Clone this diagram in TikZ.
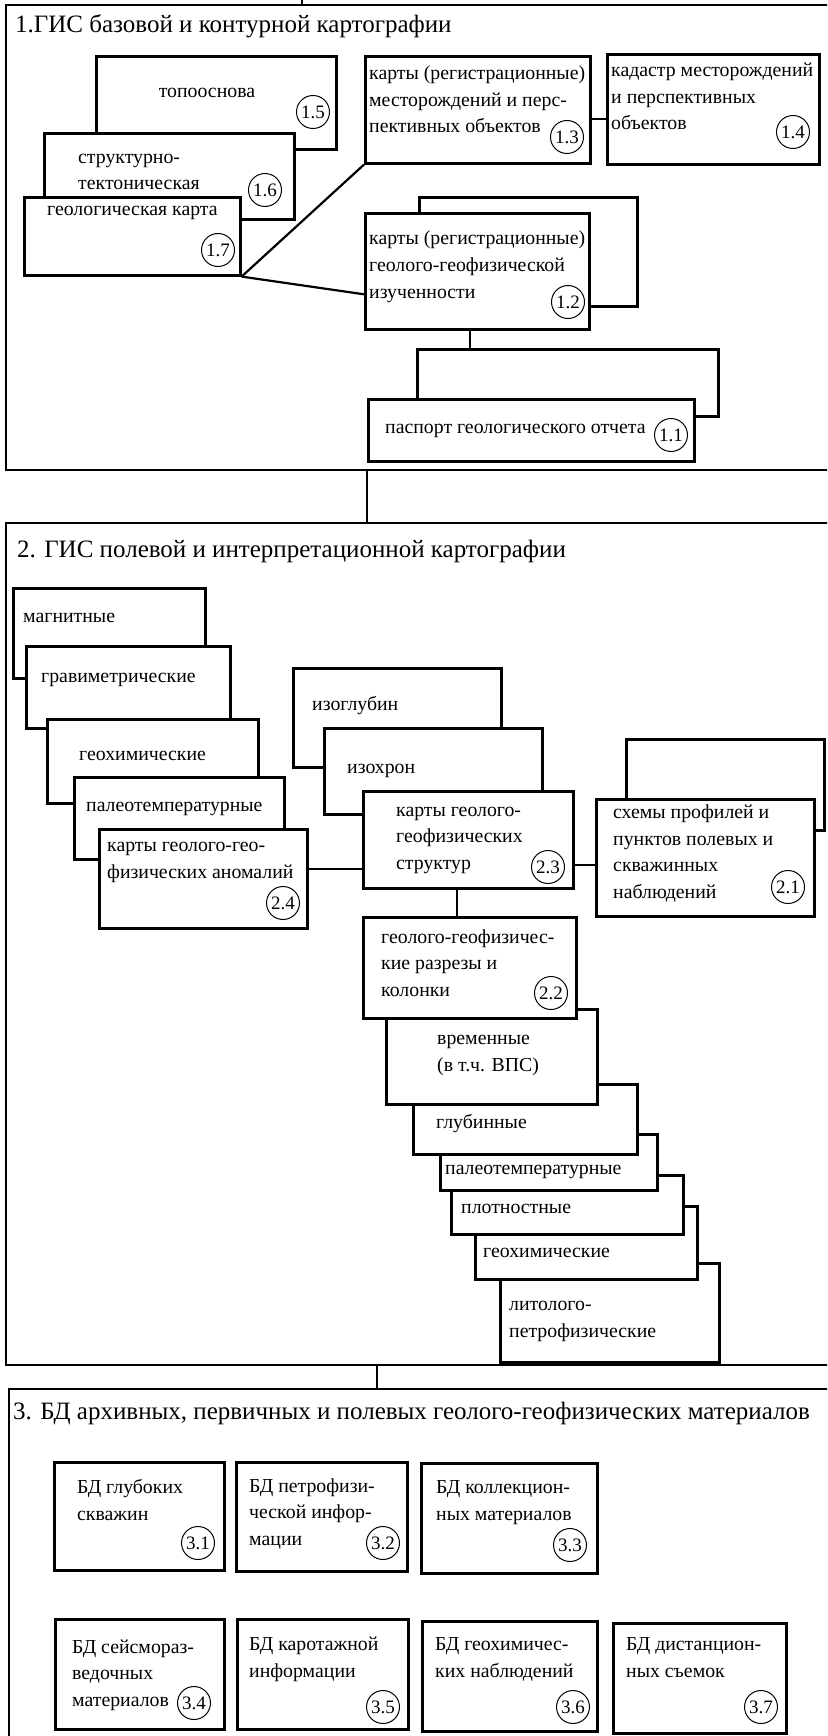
\documentclass[tikz,border=0pt]{standalone}
\usepackage{fontspec}
\setmainfont{Liberation Serif}
\usetikzlibrary{positioning,calc}

\begin{document}
\begin{tikzpicture}[x=1pt, y=-1pt,
    frame/.style={draw, line width=2.4pt, anchor=north west, inner sep=0pt},
    card/.style={draw, line width=2.6pt, fill=white, anchor=north west, inner sep=0pt},
    lbl/.style={anchor=base west, align=left, inner sep=0pt, font=\fontsize{19.8}{26.5}\selectfont},
    head/.style={anchor=base west, inner sep=0pt, font=\fontsize{25}{30}\selectfont},
    num/.style={draw, circle, line width=1pt, minimum size=33pt, inner sep=0pt, font=\fontsize{19}{20}\selectfont},
    link/.style={line width=2.2pt}]
    \useasboundingbox (0,0) rectangle (827,1736);
    \clip (0,0) rectangle (827,1736);

    % 1. base and contour cartography
    \node[frame, minimum width=840pt, minimum height=465pt] (f1) at (5,4) {};
    \node[head] (h1) at (15,33) {1.ГИС базовой и контурной картографии};
    \coordinate (up) at (302,0);
    \draw[link] (up) -- (up |- f1.north);

    \node[card, minimum width=240pt, minimum height=93pt] (b15) at (95,55) {};
    \node[lbl, anchor=base] (t15) at (207,98) {топооснова};
    \node[num] (n15) at (313,112) {1.5};
    \node[card, minimum width=250pt, minimum height=86pt] (b16) at (43,132) {};
    \node[lbl] (t16) at (78,190) {структурно-\\тектоническая};
    \node[num] (n16) at (265,190) {1.6};
    \node[card, minimum width=216pt, minimum height=78pt] (b17) at (23,196) {};
    \node[lbl] (t17) at (47,216) {геологическая карта};
    \node[num] (n17) at (218,250) {1.7};

    \node[card, minimum width=225pt, minimum height=107pt] (b13) at (364,55) {};
    \node[lbl] (t13) at (369,133) {карты (регистрационные)\\месторождений и перс-\\пективных объектов};
    \node[num] (n13) at (567,137) {1.3};
    \node[card, minimum width=212pt, minimum height=110pt] (b14) at (606,53) {};
    \node[lbl] (t14) at (611,130) {кадастр месторождений\\и перспективных\\объектов};
    \node[num] (n14) at (793,132) {1.4};

    \node[card, minimum width=218pt, minimum height=109pt] (b12b) at (418,196) {};
    \node[card, minimum width=224pt, minimum height=116pt] (b12) at (364,212) {};
    \node[lbl] (t12) at (369,298) {карты (регистрационные)\\геолого-геофизической\\изученности};
    \node[num] (n12) at (568,302) {1.2};

    \node[card, minimum width=301pt, minimum height=67pt] (b11b) at (416,348) {};
    \node[card, minimum width=326pt, minimum height=62pt] (b11) at (367,398) {};
    \node[lbl] (t11) at (385,433) {паспорт геологического отчета};
    \node[num] (n11) at (671,435) {1.1};

    \draw[link] (b17.south east) -- (b13.south west);
    \draw[link] (b17.south east) -- ([yshift=-23pt]b12.west);
    \draw[link] ([yshift=-9pt]b13.east) -- ([yshift=-9pt]b13.east -| b14.west);
    \draw[link] ([xshift=-7pt]b12.south) -- ([xshift=-7pt]b12.south |- b11b.north);

    % 2. field and interpretation cartography
    \node[frame, minimum width=840pt, minimum height=842pt] (f2) at (5,522) {};
    \node[head] (h2) at (17,557) {2. ГИС полевой и интерпретационной картографии};
    \draw[link] (b11.south west |- f1.south) -- (b11.south west |- f2.north);

    \node[card, minimum width=192pt, minimum height=90pt] (b2m) at (12,587) {};
    \node[lbl] (t2m) at (23,622) {магнитные};
    \node[card, minimum width=204pt, minimum height=82pt] (b2g) at (25,645) {};
    \node[lbl] (t2g) at (41,682) {гравиметрические};
    \node[card, minimum width=211pt, minimum height=84pt] (b2h) at (46,718) {};
    \node[lbl] (t2h) at (79,760) {геохимические};
    \node[card, minimum width=210pt, minimum height=82pt] (b2p) at (73,776) {};
    \node[lbl] (t2p) at (86,811) {палеотемпературные};
    \node[card, minimum width=208pt, minimum height=99pt] (b24) at (98,828) {};
    \node[lbl] (t24) at (107,878) {карты геолого-гео-\\физических аномалий};
    \node[num] (n24) at (283,903) {2.4};

    \node[card, minimum width=208pt, minimum height=99pt] (b2i) at (292,667) {};
    \node[lbl] (t2i) at (312,710) {изоглубин};
    \node[card, minimum width=218pt, minimum height=86pt] (b2c) at (323,727) {};
    \node[lbl] (t2c) at (347,773) {изохрон};
    \node[card, minimum width=210pt, minimum height=97pt] (b23) at (362,790) {};
    \node[lbl] (t23) at (396,869) {карты геолого-\\геофизических\\структур};
    \node[num] (n23) at (548,867) {2.3};

    \node[card, minimum width=198pt, minimum height=91pt] (b21b) at (625,738) {};
    \node[card, minimum width=218pt, minimum height=117pt] (b21) at (595,798) {};
    \node[lbl] (t21) at (613,898) {схемы профилей и\\пунктов полевых и\\скважинных\\наблюдений};
    \node[num] (n21) at (788,887) {2.1};

    \node[card, minimum width=219pt, minimum height=99pt] (b2l) at (499,1262) {};
    \node[lbl] (t2l) at (509,1337) {литолого-\\петрофизические};
    \node[card, minimum width=222pt, minimum height=73pt] (b2x) at (474,1205) {};
    \node[lbl] (t2x) at (483,1257) {геохимические};
    \node[card, minimum width=232pt, minimum height=59pt] (b2r) at (450,1174) {};
    \node[lbl] (t2r) at (461,1213) {плотностные};
    \node[card, minimum width=217pt, minimum height=56pt] (b2q) at (439,1133) {};
    \node[lbl] (t2q) at (445,1174) {палеотемпературные};
    \node[card, minimum width=224pt, minimum height=70pt] (b2d) at (412,1083) {};
    \node[lbl] (t2d) at (436,1128) {глубинные};
    \node[card, minimum width=211pt, minimum height=95pt] (b2t) at (385,1008) {};
    \node[lbl] (t2t) at (437,1071) {временные\\(в т.ч. ВПС)};
    \node[card, minimum width=213pt, minimum height=101pt] (b22) at (362,916) {};
    \node[lbl] (t22) at (381,996) {геолого-геофизичес-\\кие разрезы и\\колонки};
    \node[num] (n22) at (551,993) {2.2};

    \draw[link] ([yshift=10pt]b24.east) -- ([yshift=10pt]b24.east -| b23.west);
    \draw[link] ([yshift=-25pt]b23.east) -- ([yshift=-25pt]b23.east -| b21.west);
    \draw[link] ([xshift=-11pt]b23.south) -- ([xshift=-11pt]b23.south |- b22.north);

    % 3. archive databases
    \node[frame, minimum width=837pt, minimum height=372pt] (f3) at (8,1388) {};
    \node[head] (h3) at (13,1419) {3. БД архивных, первичных и полевых геолого-геофизических материалов};
    \draw[link] ([xshift=15pt]b22.south west |- f2.south) -- ([xshift=15pt]b22.south west |- f3.north);

    \node[card, minimum width=170pt, minimum height=108pt] (b31) at (53,1461) {};
    \node[lbl] (t31) at (77,1520) {БД глубоких\\скважин};
    \node[num] (n31) at (198,1543) {3.1};
    \node[card, minimum width=171pt, minimum height=109pt] (b32) at (235,1461) {};
    \node[lbl] (t32) at (249,1545) {БД петрофизи-\\ческой инфор-\\мации};
    \node[num] (n32) at (383,1543) {3.2};
    \node[card, minimum width=176pt, minimum height=110pt] (b33) at (420,1462) {};
    \node[lbl] (t33) at (436,1520) {БД коллекцион-\\ных материалов};
    \node[num] (n33) at (570,1545) {3.3};

    \node[card, minimum width=169pt, minimum height=110pt] (b34) at (54,1618) {};
    \node[lbl] (t34) at (72,1706) {БД сейсмораз-\\ведочных\\материалов};
    \node[num] (n34) at (194,1703) {3.4};
    \node[card, minimum width=171pt, minimum height=110pt] (b35) at (236,1618) {};
    \node[lbl] (t35) at (249,1677) {БД каротажной\\информации};
    \node[num] (n35) at (383,1707) {3.5};
    \node[card, minimum width=175pt, minimum height=110pt] (b36) at (421,1620) {};
    \node[lbl] (t36) at (435,1677) {БД геохимичес-\\ких наблюдений};
    \node[num] (n36) at (573,1707) {3.6};
    \node[card, minimum width=173pt, minimum height=110pt] (b37) at (612,1622) {};
    \node[lbl] (t37) at (626,1677) {БД дистанцион-\\ных съемок};
    \node[num] (n37) at (761,1707) {3.7};
\end{tikzpicture}
\end{document}
